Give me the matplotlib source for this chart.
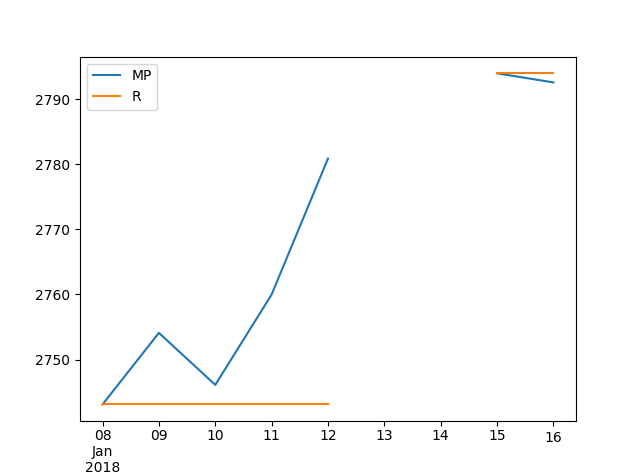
import matplotlib
matplotlib.use("Agg")
import matplotlib.pyplot as plt
import numpy as np
import pandas as pd

dates = pd.date_range("2018-01-08", "2018-01-16", freq="D")
mp = [2743.1, 2754.1, 2746.1, 2760.0, 2780.9, np.nan, np.nan, 2794.0, 2792.6]
r = [2743.1, 2743.1, 2743.1, 2743.1, 2743.1, np.nan, np.nan, 2794.0, 2794.0]
tick_labels = ["08\nJan\n2018", "09", "10", "11", "12", "13", "14", "15", "16"]

fig, ax = plt.subplots(figsize=(6.4, 4.73), dpi=100)
ax.plot(dates, mp, label="MP", color="#1f77b4")
ax.plot(dates, r, label="R", color="#ff7f0e")
ax.set_xticks(dates)
ax.set_xticklabels(tick_labels, ha="center")
ax.tick_params(axis="x", pad=2.0)
ax.xaxis.get_major_ticks()[-1].set_pad(3.5)
ax.set_yticks([2750, 2760, 2770, 2780, 2790])
ax.legend(loc="upper left")
fig.savefig("out.png", dpi=100)
